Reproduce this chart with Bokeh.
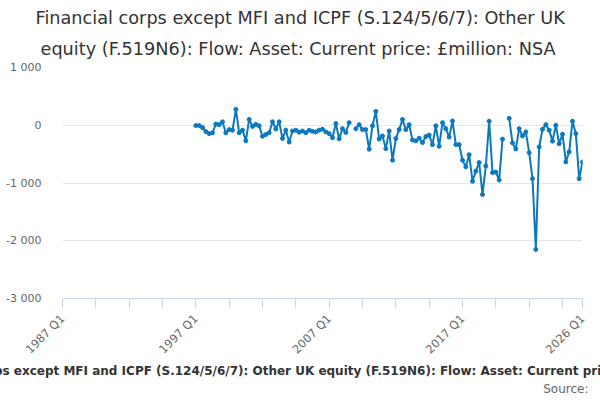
import math
from bokeh.plotting import figure
from bokeh.models import Range1d, FixedTicker, Title, ColumnDataSource
from bokeh.embed import file_html
from bokeh.resources import INLINE

# ---- data ----
title_line1 = "Financial corps except MFI and ICPF (S.124/5/6/7): Other UK"
title_line2 = "equity (F.519N6): Flow: Asset: Current price: £million: NSA"
series_name = ("Financial corps except MFI and ICPF (S.124/5/6/7): Other UK equity "
               "(F.519N6): Flow: Asset: Current price: £million: NSA")
source_text = "Source:"

quarters = [f"{y} Q{q}" for y in range(1987, 2027) for q in (1, 2, 3, 4)][:157]  # 1987 Q1 .. 2026 Q1
data_start = "1997 Q1"
values = [
    -5, -5, -40, -110, -145, -130, 20, 10, 60, -130,            # 1997 Q1 - 1999 Q2
    -75, -85, 275, -130, -85, -270, 100, -20, 15, -10,          # 1999 Q3 - 2001 Q4
    -190, -160, -130, 60, -65, 60, -230, -85, -290, -100,       # 2002 Q1 - 2004 Q2
    -85, -120, -100, -130, -85, -105, -115, -85, -70, -115,     # 2004 Q3 - 2006 Q4
    -145, -215, 30, -235, -60, -125, 45, float("nan"), -60, 10, # 2007 Q1 - 2009 Q2
    -75, -75, -415, -10, 240, -240, -185, -405, -100, -605,     # 2009 Q3 - 2011 Q4
    -230, -75, 100, -75, 10, -255, -270, -225, -300, -195,      # 2012 Q1 - 2014 Q2
    -170, -335, -10, -365, 45, -60, -205, 75, -335, -335,       # 2014 Q3 - 2016 Q4
    -605, -720, -510, -970, -795, -645, -1200, -705, 70, -820,  # 2017 Q1 - 2019 Q2
    -810, -950, -240, float("nan"), 120, -305, -410, -60, -185, -115,  # 2019 Q3 - 2021 Q4
    -475, -925, -2150, -375, -70, 10, -85, -275, 0, -320,       # 2022 Q1 - 2024 Q2
    -155, -635, -460, 70, -145, -925, -635,                     # 2024 Q3 - 2026 Q1
]
labelled_ticks = ["1987 Q1", "1997 Q1", "2007 Q1", "2017 Q1", "2026 Q1"]
minor_ticks = ["1987 Q1", "1989 Q3", "1992 Q1", "1994 Q3", "1997 Q1", "1999 Q3", "2002 Q1",
               "2004 Q3", "2007 Q1", "2009 Q3", "2012 Q1", "2014 Q3", "2017 Q1", "2019 Q3",
               "2022 Q1", "2024 Q3", "2026 Q1"]
y_ticks = [-3000, -2000, -1000, 0, 1000]
y_tick_labels = ["-3 000", "-2 000", "-1 000", "0", "1 000"]

# ---- build ----
i0 = quarters.index(data_start)
xs = list(range(i0, i0 + len(values)))
src = ColumnDataSource(dict(x=xs, y=values, q=quarters[i0:i0 + len(values)]))

FONT = "DejaVu Sans"
BLUE = "#0b78bf"

p = figure(width=600, height=400, output_backend="svg", toolbar_location=None,
           x_range=Range1d(0, len(quarters) - 1), y_range=Range1d(-3000, 1000),
           min_border_left=62, min_border_right=18, min_border_top=67, min_border_bottom=101)
p.outline_line_color = None
p.background_fill_color = "white"
p.border_fill_color = "white"

p.line("x", "y", source=src, line_color=BLUE, line_width=2)
p.scatter("x", "y", source=src, size=4, color=BLUE)

# x axis
tick_idx = [quarters.index(t) for t in minor_ticks]
p.xaxis.ticker = FixedTicker(ticks=tick_idx, minor_ticks=[])
p.xaxis.major_label_overrides = {quarters.index(t): (t if t in labelled_ticks else "") for t in minor_ticks}
p.xaxis.major_label_orientation = math.pi / 4
p.xaxis.axis_line_color = "#ccd6eb"
p.xaxis.major_tick_line_color = "#ccd6eb"
p.xaxis.major_tick_out = 10
p.xaxis.major_tick_in = 0
p.xaxis.minor_tick_line_color = None
p.xaxis.major_label_text_font = FONT
p.xaxis.major_label_text_font_size = "11.5px"
p.xaxis.major_label_text_color = "#666666"
p.xaxis.major_label_standoff = 8
p.xgrid.grid_line_color = None

# y axis
p.yaxis.ticker = FixedTicker(ticks=y_ticks, minor_ticks=[])
p.yaxis.major_label_overrides = dict(zip(y_ticks, y_tick_labels))
p.yaxis.axis_line_color = None
p.yaxis.major_tick_line_color = None
p.yaxis.minor_tick_line_color = None
p.yaxis.major_label_text_font = FONT
p.yaxis.major_label_text_font_size = "11px"
p.yaxis.major_label_text_color = "#666666"
p.yaxis.major_label_standoff = 15
p.ygrid.grid_line_color = "#e6e6e6"

# titles (outermost first)
p.title.text = title_line1
p.title.align = "left"
p.title.offset = -27
p.title.standoff = 2
p.title.text_font = FONT
p.title.text_font_size = "17.7px"
p.title.text_font_style = "normal"
p.title.text_color = "#333333"
p.add_layout(Title(text=title_line2, align="left", offset=-22, standoff=17,
                   text_font=FONT, text_font_size="17.7px",
                   text_font_style="normal", text_color="#333333"), "above")

p.add_layout(Title(text=series_name, align="left", offset=-155, standoff=-5,
                   text_font=FONT, text_font_size="12px",
                   text_font_style="bold", text_color="#333333"), "below")
p.add_layout(Title(text=source_text, align="right", offset=-6, standoff=9, text_font=FONT,
                   text_font_size="12px", text_font_style="normal",
                   text_color="#666666"), "below")

open("out.html", "w").write(file_html(p, INLINE))
